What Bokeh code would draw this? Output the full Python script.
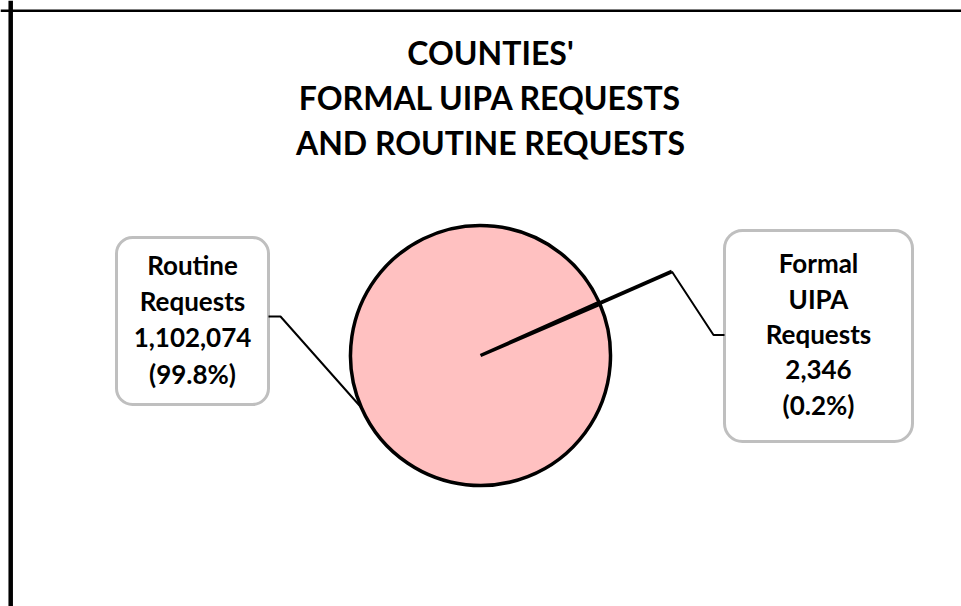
import math
from bokeh.plotting import figure
from bokeh.models import Range1d, BoxAnnotation, Span, ColumnDataSource
from bokeh.core.properties import value
from bokeh.embed import file_html
from bokeh.resources import INLINE

# ---- data ----
categories = ["Formal UIPA Requests", "Routine Requests"]
counts = [2346, 1102074]
label_lines = [
    ["Formal", "UIPA", "Requests", "2,346", "(0.2%)"],
    ["Routine", "Requests", "1,102,074", "(99.8%)"],
]
title_lines = ["COUNTIES'", "FORMAL UIPA REQUESTS", "AND ROUTINE REQUESTS"]

# ---- layout ----
W, H = 961, 606
def Y(sy):  # screen y -> data y
    return H - sy

p = figure(width=W, height=H, output_backend="svg", toolbar_location=None,
           x_range=Range1d(0, W), y_range=Range1d(0, H),
           min_border=0)
p.axis.visible = False
p.xgrid.visible = False
p.ygrid.visible = False
p.outline_line_color = None
p.background_fill_color = "white"
p.border_fill_color = "white"

# frame (left and top edges visible)
p.add_layout(Span(location=10.2, dimension="height", line_color="black", line_width=4.5))
p.add_layout(Span(location=Y(10.2), dimension="width", line_color="black", line_width=2.5))

font = value("Lato")
TS, LS = 32, 26

# title
title_baselines = [68, 113, 158]
p.text(x=[490] * 3, y=[Y(b - 0.5 * TS) for b in title_baselines], text=title_lines,
       text_font=font, text_font_style="bold", text_font_size=f"{TS}px",
       text_align="center", text_baseline="alphabetic", text_color="black")

# pie
cx, cy, r = 480, Y(355), 130
total = sum(counts)
start0 = math.radians(23.7) - math.pi * counts[0] / total  # formal slice centered at ~23.7 deg
starts, ends, mids = [], [], []
a = start0
for c in counts:
    span = 2 * math.pi * c / total
    starts.append(a)
    ends.append(a + span)
    mids.append(a + span / 2)
    a += span
src = ColumnDataSource(dict(start=starts, end=ends, cat=categories))
p.wedge(x=cx, y=cy, radius=r, start_angle="start", end_angle="end", source=src,
        fill_color="#FFC1C1", line_color="black", line_width=3.5)

# leader for Formal slice
m = mids[0]
ex, ey = cx + r * math.cos(m), cy + r * math.sin(m)
fx, fy = cx + 209 * math.cos(m), cy + 209 * math.sin(m)
p.line([ex, fx], [ey, fy], line_color="black", line_width=4)
p.line([fx, 713, 724], [fy, Y(334.5), Y(334.5)], line_color="black", line_width=2)

# leader for Routine slice
m = mids[1]
ex, ey = cx + r * math.cos(m), cy + r * math.sin(m)
p.line([ex, 280, 268], [ey, Y(316), Y(316)], line_color="black", line_width=2)

# label boxes
p.add_layout(BoxAnnotation(left=116, right=268, top=Y(237), bottom=Y(404),
                           fill_color="white", fill_alpha=1, line_color="#BFBFBF",
                           line_alpha=1, line_width=3, border_radius=16, level="underlay"))
p.add_layout(BoxAnnotation(left=724, right=912, top=Y(230), bottom=Y(441),
                           fill_color="white", fill_alpha=1, line_color="#BFBFBF",
                           line_alpha=1, line_width=3, border_radius=18, level="underlay"))

# label texts
r_base = [277, 313.5, 350, 386.5]
p.text(x=[192] * 4, y=[Y(b - 0.5 * LS) for b in r_base], text=label_lines[1],
       text_font=font, text_font_style="bold", text_font_size=f"{LS}px",
       text_align="center", text_baseline="alphabetic", text_color="black")
f_base = [275, 311, 346, 381.5, 417]
p.text(x=[818] * 5, y=[Y(b - 0.5 * LS) for b in f_base], text=label_lines[0],
       text_font=font, text_font_style="bold", text_font_size=f"{LS}px",
       text_align="center", text_baseline="alphabetic", text_color="black")

open("out.html", "w").write(file_html(p, INLINE))
